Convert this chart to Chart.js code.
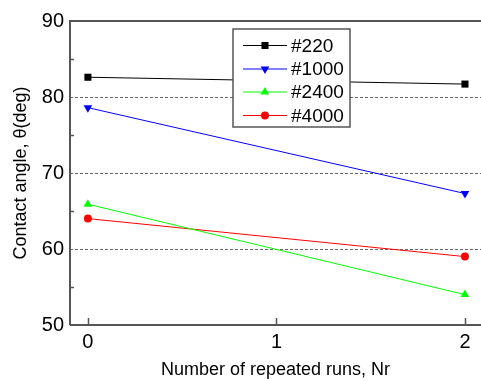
<!DOCTYPE html>
<html>
<head>
<meta charset="utf-8">
<script src="https://cdn.jsdelivr.net/npm/chart.js@4.4.1/dist/chart.umd.min.js"></script>
<style>
  html, body { margin: 0; padding: 0; background: #fff; overflow: hidden; }
  canvas { display: block; }
</style>
</head>
<body>
<canvas id="chartAngle" width="481" height="381"></canvas>
<script>
// ---- data ----
const runs = [0, 2];
const s220  = [82.6, 81.7];
const s1000 = [78.6, 67.3];
const s2400 = [65.9, 54.0];
const s4000 = [64.0, 59.0];
const xTicks = [0, 1, 2];
const seriesNames = ['#220', '#1000', '#2400', '#4000'];

const FONT = "'Liberation Sans', Arial, sans-serif";
const AXIS = '#555';

function pts(ys) { return runs.map((x, i) => ({ x: x, y: ys[i] })); }

const styles = [
    { color: '#000000', pointStyle: 'rect', radius: 5, rotation: 0 },
    { color: '#0000ff', pointStyle: 'triangle', radius: 5, rotation: 180 },
    { color: '#00ff00', pointStyle: 'triangle', radius: 5, rotation: 0 },
    { color: '#ff0000', pointStyle: 'circle', radius: 4, rotation: 0 }
];
const values = [s220, s1000, s2400, s4000];

const datasets = values.map((v, i) => ({
    label: seriesNames[i],
    data: pts(v),
    borderColor: styles[i].color,
    backgroundColor: styles[i].color,
    borderWidth: 1,
    pointStyle: styles[i].pointStyle,
    pointRotation: styles[i].rotation,
    pointRadius: styles[i].radius,
    pointBorderWidth: 0,
    pointHoverRadius: styles[i].radius
}));

// axis frame, inward ticks and the boxed legend
const framePlugin = {
    id: 'frame',
    afterDraw(chart) {
        const { ctx, chartArea: a, scales: { x, y } } = chart;
        ctx.save();
        ctx.strokeStyle = AXIS;
        ctx.lineWidth = 2;
        ctx.beginPath();
        ctx.moveTo(a.left, a.bottom);
        ctx.lineTo(a.left, a.top);
        ctx.lineTo(a.right, a.top);
        ctx.moveTo(a.left, a.bottom);
        ctx.lineTo(a.right, a.bottom);
        ctx.stroke();

        ctx.lineWidth = 1.5;
        ctx.beginPath();
        xTicks.forEach(t => {
            const px = Math.round(x.getPixelForValue(t)) + 0.5;
            ctx.moveTo(px, a.bottom);
            ctx.lineTo(px, a.bottom - 7);
        });
        for (let v = 55; v < 90; v += 10) {
            const py = Math.round(y.getPixelForValue(v)) + 0.5;
            ctx.moveTo(a.left, py);
            ctx.lineTo(a.left + 4, py);
        }
        ctx.stroke();

        // legend
        const bx = 233, by = 29, bw = 117, bh = 98;
        ctx.fillStyle = '#fff';
        ctx.fillRect(bx, by, bw, bh);
        ctx.strokeStyle = AXIS;
        ctx.lineWidth = 1.5;
        ctx.strokeRect(bx, by, bw, bh);
        const rows = [45.5, 69, 92, 115.5];
        ctx.font = '19px ' + FONT;
        ctx.textBaseline = 'middle';
        styles.forEach((s, i) => {
            const ry = rows[i];
            ctx.strokeStyle = s.color;
            ctx.fillStyle = s.color;
            ctx.lineWidth = 1;
            ctx.beginPath();
            ctx.moveTo(243, ry);
            ctx.lineTo(287, ry);
            ctx.stroke();
            Chart.helpers.drawPoint(ctx, {
                pointStyle: s.pointStyle, rotation: s.rotation,
                radius: s.radius, borderWidth: 0
            }, 265, ry);
            ctx.fillStyle = '#000';
            ctx.fillText(seriesNames[i], 291, ry + 1);
        });
        ctx.restore();
    }
};

new Chart(document.getElementById('chartAngle'), {
    type: 'line',
    data: { datasets: datasets },
    options: {
        responsive: false,
        animation: false,
        events: [],
        layout: { autoPadding: false, padding: { top: 21, right: 0, left: 0, bottom: 0 } },
        plugins: { legend: { display: false }, tooltip: { enabled: false } },
        scales: {
            x: {
                type: 'linear',
                min: -0.095,
                max: 2.085,
                afterBuildTicks: (s) => { s.ticks = xTicks.map(v => ({ value: v })); },
                afterFit: (s) => { s.height = 56; s.paddingLeft = 0; s.paddingRight = 0; },
                grid: { display: false, drawTicks: false },
                border: { display: false },
                ticks: { color: '#000', padding: 5, font: { family: FONT, size: 20 } },
                title: {
                    display: true,
                    text: 'Number of repeated runs, Nr',
                    color: '#000',
                    padding: { top: 4, bottom: 0 },
                    font: { family: FONT, size: 18 }
                }
            },
            y: {
                min: 50,
                max: 90,
                afterFit: (s) => { s.width = 70; },
                ticks: {
                    stepSize: 10,
                    color: '#000',
                    padding: 6,
                    font: { family: FONT, size: 20 }
                },
                grid: {
                    drawTicks: false,
                    color: (c) => (c.tick && c.tick.value > 50 && c.tick.value < 90) ? '#666' : 'rgba(0,0,0,0)',
                    lineWidth: 1
                },
                border: { display: false, dash: [3, 2] },
                title: {
                    display: true,
                    text: 'Contact angle, θ(deg)',
                    color: '#000',
                    padding: { top: 10, bottom: 0 },
                    font: { family: FONT, size: 18 }
                }
            }
        }
    },
    plugins: [framePlugin]
});
</script>
</body>
</html>
